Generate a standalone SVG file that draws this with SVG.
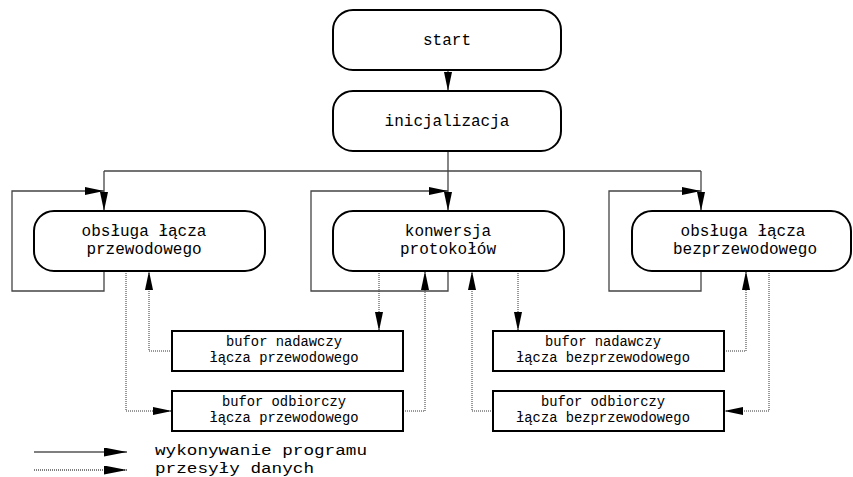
<svg xmlns="http://www.w3.org/2000/svg" width="853" height="477" viewBox="0 0 853 477">
<style>
.box{fill:#fff;stroke:#000;stroke-width:2}
.t{font-family:"Liberation Mono","DejaVu Sans Mono",monospace;fill:#000;text-anchor:middle}
.big{font-size:16px}
.small{font-size:13.8px}
.leg{font-family:"Liberation Mono","DejaVu Sans Mono",monospace;font-size:14.5px;fill:#000}
.solid{fill:none;stroke:#444;stroke-width:1.3}
.dot{fill:none;stroke:#333;stroke-width:1;stroke-dasharray:1,1}
</style>
<defs>
<marker id="ah" markerUnits="userSpaceOnUse" markerWidth="19" markerHeight="9" refX="19" refY="4" orient="auto">
<path d="M0,0 L19,4 L0,8 z" fill="#000"/>
</marker>
<marker id="ahL" markerUnits="userSpaceOnUse" markerWidth="23" markerHeight="9" refX="23" refY="4.5" orient="auto">
<path d="M0,0 L23,4.5 L0,9 z" fill="#000"/>
</marker>
</defs>
<g id="connectors">
<path class="solid" d="M448,71 L448,91" marker-end="url(#ah)"/>
<path class="solid" d="M448,151 L448,211" marker-end="url(#ah)"/>
<path class="solid" d="M104,171 L701,171"/>
<path class="solid" d="M104,171 L104,211" marker-end="url(#ah)"/>
<path class="solid" d="M701,171 L701,211" marker-end="url(#ah)"/>
<path class="solid" d="M104,271 L104,291 L12,291 L12,191 L104,191" marker-end="url(#ah)"/>
<path class="solid" d="M448,271 L448,291 L311,291 L311,191 L448,191" marker-end="url(#ah)"/>
<path class="solid" d="M701,271 L701,291 L609,291 L609,191 L701,191" marker-end="url(#ah)"/>
<path class="dot" d="M126,271 L126,411 L172,411" marker-end="url(#ah)"/>
<path class="dot" d="M172,351 L149,351 L149,271" marker-end="url(#ah)"/>
<path class="dot" d="M379,271 L379,331" marker-end="url(#ah)"/>
<path class="dot" d="M403,411 L425,411 L425,271" marker-end="url(#ah)"/>
<path class="dot" d="M518,271 L518,331" marker-end="url(#ah)"/>
<path class="dot" d="M493,411 L472,411 L472,271" marker-end="url(#ah)"/>
<path class="dot" d="M724,351 L746,351 L746,271" marker-end="url(#ah)"/>
<path class="dot" d="M769,271 L769,411 L724,411" marker-end="url(#ah)"/>
</g>
<g id="start">
<rect class="box" x="333" y="10" width="228" height="60" rx="20" ry="20"/>
<text class="t big" x="447" y="45">start</text>
</g>
<g id="init">
<rect class="box" x="333" y="91" width="228" height="60" rx="20" ry="20"/>
<text class="t big" x="447" y="126">inicjalizacja</text>
</g>
<g id="wired">
<rect class="box" x="34" y="211" width="231" height="60" rx="20" ry="20"/>
<text class="t big" x="144" y="236">obsługa łącza</text>
<text class="t big" x="144" y="254">przewodowego</text>
</g>
<g id="conv">
<rect class="box" x="333" y="211" width="231" height="60" rx="20" ry="20"/>
<text class="t big" x="448" y="236">konwersja</text>
<text class="t big" x="448" y="254">protokołów</text>
</g>
<g id="wireless">
<rect class="box" x="632" y="211" width="219" height="60" rx="20" ry="20"/>
<text class="t big" x="743" y="236">obsługa łącza</text>
<text class="t big" x="745" y="254">bezprzewodowego</text>
</g>
<g id="txw">
<rect class="box" x="172" y="331" width="231" height="40"/>
<text class="t small" x="284" y="346">bufor nadawczy</text>
<text class="t small" x="284" y="362">łącza przewodowego</text>
</g>
<g id="rxw">
<rect class="box" x="172" y="391" width="231" height="40"/>
<text class="t small" x="284" y="406">bufor odbiorczy</text>
<text class="t small" x="284" y="422">łącza przewodowego</text>
</g>
<g id="txwl">
<rect class="box" x="493" y="331" width="231" height="40"/>
<text class="t small" x="603" y="346">bufor nadawczy</text>
<text class="t small" x="603" y="362">łącza bezprzewodowego</text>
</g>
<g id="rxwl">
<rect class="box" x="493" y="391" width="231" height="40"/>
<text class="t small" x="603" y="406">bufor odbiorczy</text>
<text class="t small" x="603" y="422">łącza bezprzewodowego</text>
</g>
<g id="legend">
<path d="M34,452 L127,452" fill="none" stroke="#000" stroke-width="1.2" marker-end="url(#ahL)"/>
<path d="M34,470 L127,470" fill="none" stroke="#000" stroke-width="1" stroke-dasharray="1,1" marker-end="url(#ahL)"/>
<text class="leg" x="155" y="455" textLength="212" lengthAdjust="spacingAndGlyphs">wykonywanie programu</text>
<text class="leg" x="155" y="473" textLength="159" lengthAdjust="spacingAndGlyphs">przesyły danych</text>
</g>
</svg>
